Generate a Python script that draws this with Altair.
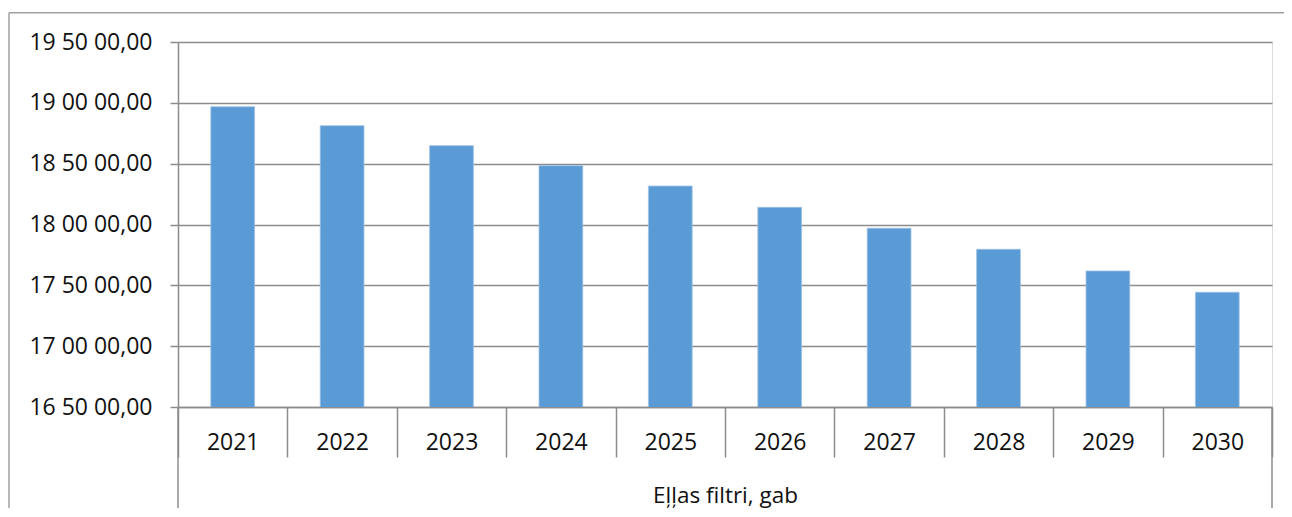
import altair as alt
import pandas as pd

years = ["2021", "2022", "2023", "2024", "2025", "2026", "2027", "2028", "2029", "2030"]
values = [1896800, 1881200, 1864800, 1848300, 1831600, 1814100, 1796900, 1779600, 1761800, 1744300]
y_ticks = [1650000, 1700000, 1750000, 1800000, 1850000, 1900000, 1950000]
y_tick_labels = ["16 50 00,00", "17 00 00,00", "17 50 00,00", "18 00 00,00",
                 "18 50 00,00", "19 00 00,00", "19 50 00,00"]
x_title = "Eļļas filtri, gab"

df = pd.DataFrame({"year": years, "value": values})

FONT = "Open Sans"
GRID = "#8c8c8c"
FRAME = "#a0a0a0"
W, H = 1094, 365
CANVAS_H = 500
PAD_TOP = 34
PAD_LEFT = 170
PAD_RIGHT = 12
BOTTOM = CANVAS_H - PAD_TOP - H  # below plot

label_arr = "[" + ",".join("'" + s + "'" for s in y_tick_labels) + "]"
label_expr = f"{label_arr}[round((datum.value - {y_ticks[0]}) / {y_ticks[1] - y_ticks[0]})]"

bars = alt.Chart(df).mark_bar(color="#5B9BD5", stroke="#9cc0e6", strokeWidth=0.8, clip=True,
                              width=alt.RelativeBandSize(0.4)).encode(
    x=alt.X("year:N", sort=years,
            scale=alt.Scale(paddingInner=0, paddingOuter=0),
            axis=alt.Axis(title=x_title, tickBand="extent", tickSize=50, tickColor=GRID,
                          tickWidth=1.5, domainColor=GRID, domainWidth=1.5,
                          labelAngle=0, labelFont=FONT, labelFontSize=23, labelColor="#111111",
                          labelBaseline="alphabetic", labelPadding=-7.7,
                          titleFont=FONT, titleFontSize=22.5, titleFontWeight="normal",
                          titleColor="#111111", titleBaseline="alphabetic", titleY=95,
                          titleX=W / 2, titleAnchor="middle")),
    y=alt.Y("value:Q",
            scale=alt.Scale(domain=[y_ticks[0], y_ticks[-1]], nice=False, zero=False),
            axis=alt.Axis(title=None, values=y_ticks, labelExpr=label_expr,
                          labelFont=FONT, labelFontSize=23, labelColor="#111111",
                          labelPadding=18, tickSize=8, tickColor=GRID, tickWidth=1.5,
                          domainColor=GRID, domainWidth=1.5,
                          grid=True, gridColor=GRID, gridWidth=1.5)),
)

dummy = alt.Data(values=[{}])

def vrule(x, y1, y2, color, w=1.5):
    return alt.Chart(dummy).mark_rule(color=color, strokeWidth=w).encode(
        x=alt.value(x), y=alt.value(y1), y2=alt.value(y2))

def hrule(y, x1, x2, color, w=1.5):
    return alt.Chart(dummy).mark_rule(color=color, strokeWidth=w).encode(
        y=alt.value(y), x=alt.value(x1), x2=alt.value(x2))

extras = [
    vrule(0, H, H + 102, GRID),
    vrule(W, H, H + 102, GRID),
    vrule(-169, -29.3, H + BOTTOM, FRAME),
    hrule(-29.3, -169, W + PAD_RIGHT, FRAME),
]

chart = alt.layer(bars, *extras).properties(
    width=W, height=H,
    autosize=alt.AutoSizeParams(type="none"),
    padding={"left": PAD_LEFT, "top": PAD_TOP, "right": PAD_RIGHT, "bottom": BOTTOM},
).configure_view(stroke=None).configure(background="white")

chart.save("out.html", embed_options={"renderer": "svg", "actions": False})
